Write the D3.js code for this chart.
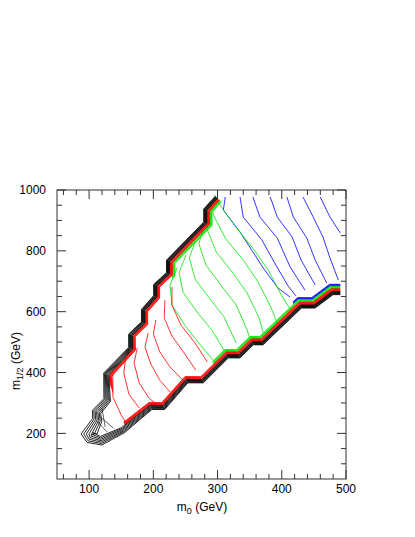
<!DOCTYPE html>
<html><head><meta charset="utf-8">
<script src="https://cdn.jsdelivr.net/npm/d3@7"></script>
<style>body{margin:0;background:#fff}svg{display:block}</style>
</head><body>
<svg id="c" width="415" height="537"></svg>
<script>
// ---------- data ----------
const xMajorTicks = [100, 200, 300, 400, 500];
const xMinorTicks = [60, 80, 120, 140, 160, 180, 220, 240, 260, 280, 320, 340, 360, 380, 420, 440, 460, 480];
const yMajorTicks = [200, 400, 600, 800, 1000];
const yMinorTicks = [100, 150, 250, 300, 350, 450, 500, 550, 650, 700, 750, 850, 900, 950];

// outer edge of the allowed region: top of upper-left edge -> tip -> right end of lower edge  [m0, m1/2]
const boundary = [[296,980],[278,938],[278,895],[220,770],[220,729],[200,690],[200,653],[181,608],[181,567],
  [161,527],[161,483],[122,399],[122,315],[104,277],[104,250],[85,198],[96,167],[120,159],[156,201],
  [198,277],[218,277],[254,365],[278,365],[317,447],[335,447],[356,490],[371,490],[431,611],[452,611],
  [480,655],[491,655]];
const tipIndex = 15;

// contour segments across the band
const blackCurves = [
  [[120,282],[125,222]],
  [[117,255],[138,217]],
  [[112,240],[128,205]]
];
const redCurves = [
  [[137,392],[137,320],[150,260],[159,231]],
  [[157,448],[154,398],[162,329],[178,283]],
  [[175,481],[170,431],[178,366],[193,316],[201,303]],
  [[192,530],[187,484],[196,428],[210,375],[226,336]],
  [[204,573],[200,527],[210,468],[226,418],[246,375]],
  [[218,638],[217,579],[229,520],[248,464],[266,408]],
  [[229,681],[229,622],[243,556],[265,497],[284,435]]
];
const greenCurves = [
  [[237,744],[226,688],[229,622],[249,556],[273,491],[293,441]],
  [[251,786],[240,730],[246,665],[268,599],[291,540],[310,474]],
  [[265,829],[256,777],[265,707],[287,645],[310,583],[329,497]],
  [[277,869],[271,823],[282,753],[305,688],[329,622],[346,540],[351,507]],
  [[282,918],[284,869],[298,796],[323,730],[346,661],[365,579],[371,530]],
  [[288,957],[295,911],[313,839],[340,770],[363,698],[383,615],[394,556]],
  [[295,984],[305,947],[327,882],[355,809],[379,737],[400,652],[416,599]]
];
const blueCurves = [
  [[312,977],[309,934],[335,862],[371,744],[394,678],[413,648]],
  [[335,977],[340,911],[369,836],[389,760],[410,684],[422,652]],
  [[355,977],[366,911],[393,842],[413,747],[436,671]],
  [[382,977],[393,911],[416,846],[430,770],[452,688]],
  [[408,977],[418,911],[439,842],[452,770],[470,694]],
  [[433,977],[449,911],[464,846],[475,777],[488,704]],
  [[460,977],[475,911],[491,859]]
];
// where each coloured edge band begins (a line across the band, upper point then lower point)
const redBandStart = [[125,405],[160,200]];
const greenBandStart = [[226,725],[293,431]];
const blueBandStart = [[330,1010],[415,640]];

// ---------- layout ----------
const plot = {left: 57, right: 346, top: 190, bottom: 479};
const x = d3.scaleLinear().domain([50, 500]).range([plot.left, plot.right]);
const y = d3.scaleLinear().domain([50, 1000]).range([plot.bottom, plot.top]);
const svg = d3.select('#c');
const defs = svg.append('defs');
const font = '"Liberation Sans", Arial, Helvetica, sans-serif';

defs.append('clipPath').attr('id', 'plotclip').append('rect')
  .attr('x', plot.left).attr('y', plot.top).attr('width', plot.right - plot.left).attr('height', plot.bottom - plot.top);

const gPlot = svg.append('g').attr('clip-path', 'url(#plotclip)');
const line = d3.line().x(d => d[0]).y(d => d[1]);
const toPx = pts => pts.map(p => [x(p[0]), y(p[1])]);

// polyline offset in pixel space (positive = towards inside of region), per-vertex distance
function offsetPolyline(pts, dArr) {
  const n = pts.length, out = [];
  for (let i = 0; i < n; i++) {
    const d = dArr[i];
    const norms = [];
    if (i > 0) { const dx = pts[i][0]-pts[i-1][0], dy = pts[i][1]-pts[i-1][1], l = Math.hypot(dx,dy); norms.push([dy/l, -dx/l]); }
    if (i < n-1) { const dx = pts[i+1][0]-pts[i][0], dy = pts[i+1][1]-pts[i][1], l = Math.hypot(dx,dy); norms.push([dy/l, -dx/l]); }
    if (norms.length === 1) out.push([pts[i][0]+norms[0][0]*d, pts[i][1]+norms[0][1]*d]);
    else {
      const [a, b] = norms; let mx = a[0]+b[0], my = a[1]+b[1]; const ml = Math.hypot(mx,my) || 1;
      mx /= ml; my /= ml; const c = mx*a[0]+my*a[1]; const s = d/Math.max(c, 0.35);
      out.push([pts[i][0]+mx*s, pts[i][1]+my*s]);
    }
  }
  return out;
}
function halfPlane(id, seg) {
  const P1 = [x(seg[0][0]), y(seg[0][1])], P2 = [x(seg[1][0]), y(seg[1][1])];
  let ux = P2[0]-P1[0], uy = P2[1]-P1[1]; const l = Math.hypot(ux,uy); ux /= l; uy /= l;
  const nx = uy, ny = -ux, L = 3000;
  let A = [P1[0]-L*ux, P1[1]-L*uy], B = [P2[0]+L*ux, P2[1]+L*uy];
  let sx = nx, sy = ny; if (sx - sy < 0) { sx = -sx; sy = -sy; }
  const poly = [A, B, [B[0]+L*sx, B[1]+L*sy], [A[0]+L*sx, A[1]+L*sy]];
  defs.append('clipPath').attr('id', id).append('polygon').attr('points', poly.map(p => p.join(',')).join(' '));
  return 'url(#' + id + ')';
}

const bPx = toPx(boundary);
// arc length from the tip along the edge
const arc = bPx.map(() => 0);
for (let i = tipIndex - 1; i >= 0; i--) arc[i] = arc[i+1] + Math.hypot(bPx[i][0]-bPx[i+1][0], bPx[i][1]-bPx[i+1][1]);
for (let i = tipIndex + 1; i < bPx.length; i++) arc[i] = arc[i-1] + Math.hypot(bPx[i][0]-bPx[i-1][0], bPx[i][1]-bPx[i-1][1]);
// edge contours spread apart near the tip
const spread = arc.map(a => 1 + 3.2*Math.exp(-a / 45));
const blackN = 7, blackStep = 0.5;
const blackW = blackN * blackStep;
const bands = [
  {color: '#0000ff', n: 4, from: 5.4, step: 0.55, clip: halfPlane('cb', blueBandStart)},
  {color: '#00e600', n: 5, from: 2.8, step: 0.55, clip: halfPlane('cg', greenBandStart)},
  {color: '#ff0000', n: 6, from: 0.0, step: 0.5, clip: halfPlane('cr', redBandStart)}
];

// cross curves
const curveSets = [[blueCurves, '#0000ff'], [greenCurves, '#00e600'], [redCurves, '#ff0000'], [blackCurves, '#333']];
curveSets.forEach(([set, col]) => {
  gPlot.append('g').selectAll('path').data(set).join('path')
    .attr('d', d => line(toPx(d))).attr('fill', 'none').attr('stroke', col).attr('stroke-width', 0.8);
});
// coloured bands (inside the black one)
bands.forEach(b => {
  const g = gPlot.append('g').attr('clip-path', b.clip);
  for (let k = 0; k < b.n; k++) {
    const dArr = spread.map(s => blackW*s + 0.1 + b.from + k*b.step);
    g.append('path').attr('d', line(offsetPolyline(bPx, dArr)))
      .attr('fill', 'none').attr('stroke', b.color).attr('stroke-width', 0.85);
  }
});
// black band
const gB = gPlot.append('g');
for (let k = 0; k < blackN; k++) {
  const dArr = spread.map(s => (0.3 + k*blackStep)*s);
  gB.append('path').attr('d', line(offsetPolyline(bPx, dArr)))
    .attr('fill', 'none').attr('stroke', '#000').attr('stroke-width', 0.85);
}

// ---------- frame & ticks ----------
const axisCol = '#333';
svg.append('rect').attr('x', plot.left).attr('y', plot.top).attr('width', plot.right-plot.left).attr('height', plot.bottom-plot.top)
  .attr('fill', 'none').attr('stroke', axisCol).attr('stroke-width', 1);
const gT = svg.append('g').attr('stroke', axisCol).attr('stroke-width', 1);
const tk = (v, len) => {
  gT.append('line').attr('x1', x(v)).attr('x2', x(v)).attr('y1', plot.bottom).attr('y2', plot.bottom-len);
  gT.append('line').attr('x1', x(v)).attr('x2', x(v)).attr('y1', plot.top).attr('y2', plot.top+len);
};
const tky = (v, len) => {
  gT.append('line').attr('y1', y(v)).attr('y2', y(v)).attr('x1', plot.left).attr('x2', plot.left+len);
  gT.append('line').attr('y1', y(v)).attr('y2', y(v)).attr('x1', plot.right).attr('x2', plot.right-len);
};
xMajorTicks.forEach(v => tk(v, 9)); xMinorTicks.forEach(v => tk(v, 5));
yMajorTicks.forEach(v => tky(v, 9)); yMinorTicks.forEach(v => tky(v, 5));

svg.append('g').selectAll('text').data(xMajorTicks).join('text')
  .attr('x', d => x(d)).attr('y', 493).attr('text-anchor', 'middle')
  .attr('font-family', font).attr('font-size', 12).attr('fill', '#000').text(d => d);
svg.append('g').selectAll('text').data(yMajorTicks).join('text')
  .attr('x', 46).attr('y', d => y(d) + 4.3).attr('text-anchor', 'end')
  .attr('font-family', font).attr('font-size', 12).attr('fill', '#000').text(d => d);

const xl = svg.append('text').attr('x', 202).attr('y', 511).attr('text-anchor', 'middle')
  .attr('font-family', font).attr('font-size', 12).attr('fill', '#000');
xl.append('tspan').text('m');
xl.append('tspan').attr('font-size', 9).attr('dy', 3).text('0');
xl.append('tspan').attr('dy', -3).text(' (GeV)');

const yl = svg.append('text').attr('transform', 'translate(20,361) rotate(-90)').attr('text-anchor', 'middle')
  .attr('font-family', font).attr('font-size', 12).attr('fill', '#000');
yl.append('tspan').text('m');
yl.append('tspan').attr('font-size', 9).attr('dy', 3).text('1/2');
yl.append('tspan').attr('dy', -3).text(' (GeV)');
</script>
</body></html>
